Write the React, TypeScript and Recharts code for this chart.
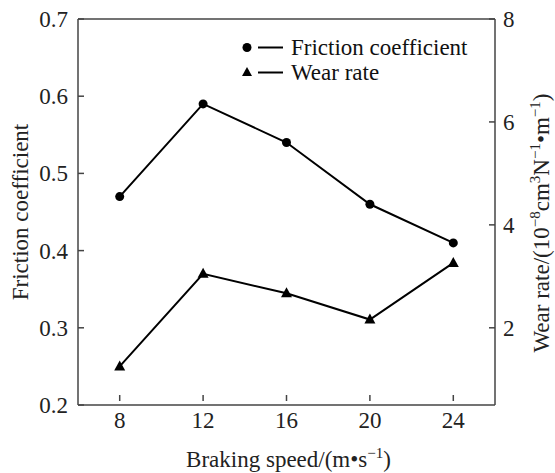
import React from 'react';
import { LineChart, Line, XAxis, YAxis, Legend, ReferenceLine } from 'recharts';

const speeds = [8, 12, 16, 20, 24];
const frictionCoefficient = [0.47, 0.59, 0.54, 0.46, 0.41];
const wearRate = [1.25, 3.05, 2.67, 2.16, 3.26];
const xTicks = [8, 12, 16, 20, 24];
const leftTicks = [0.2, 0.3, 0.4, 0.5, 0.6, 0.7];
const rightTicks = [2, 4, 6, 8];
const seriesNames = ['Friction coefficient', 'Wear rate'];

const data = speeds.map((s, i) => ({ speed: s, friction: frictionCoefficient[i], wear: wearRate[i] }));

const FONT = "'Liberation Serif', 'Times New Roman', serif";
const FS = 23;
const AXIS = '#444';
const TXT = { fontFamily: FONT, fontSize: FS, fill: '#222' } as React.CSSProperties;

const LeftTick = (p: any) => (
  <g>
    <line x1={p.x + 10} x2={p.x + 16} y1={p.y} y2={p.y} stroke={AXIS} strokeWidth={1.5} />
    <text x={p.x} y={p.y} dy="0.35em" textAnchor="end" style={TXT}>
      {Number(p.payload.value).toFixed(1)}
    </text>
  </g>
);

const RightTick = (p: any) => (
  <g>
    <line x1={p.x - 8} x2={p.x - 14} y1={p.y} y2={p.y} stroke={AXIS} strokeWidth={1.5} />
    <text x={p.x} y={p.y} dy="0.35em" textAnchor="start" style={TXT}>
      {p.payload.value}
    </text>
  </g>
);

const BottomTick = (p: any) => (
  <g>
    <line x1={p.x} x2={p.x} y1={p.y - 4} y2={p.y - 10} stroke={AXIS} strokeWidth={1.5} />
    <text x={p.x} y={p.y + 23} textAnchor="middle" style={TXT}>
      {p.payload.value}
    </text>
  </g>
);

const TriangleDot = (p: any) => {
  const { cx, cy } = p;
  if (cx == null || cy == null) return null;
  return <path d={`M${cx},${cy - 6} L${cx + 5.5},${cy + 4} L${cx - 5.5},${cy + 4} Z`} fill="#000" />;
};

const LegendContent = () => (
  <div style={{ fontFamily: FONT, fontSize: FS, color: '#111', lineHeight: '25px' }}>
    {seriesNames.map((name, i) => (
      <div key={name} style={{ display: 'flex', alignItems: 'center', height: 25, whiteSpace: 'nowrap' }}>
        <svg width={50} height={25} style={{ display: 'block' }}>
          {i === 0 ? (
            <circle cx={9} cy={12.5} r={4.5} fill="#000" />
          ) : (
            <path d="M9,7 L14,16 L4,16 Z" fill="#000" />
          )}
          <line x1={20} x2={45} y1={12.5} y2={12.5} stroke="#000" strokeWidth={2} />
        </svg>
        <span style={{ marginLeft: 3 }}>{name}</span>
      </div>
    ))}
  </div>
);

const LeftTitle = (props: any) => {
  const vb = props.viewBox || { x: 0, y: 19, width: 78, height: 386 };
  const cx = 20;
  const cy = vb.y + vb.height / 2;
  return (
    <text x={cx} y={cy} transform={`rotate(-90, ${cx}, ${cy})`} textAnchor="middle" dominantBaseline="central" style={TXT}>
      Friction coefficient
    </text>
  );
};

const RightTitle = (props: any) => {
  const vb = props.viewBox || { x: 495, y: 19, width: 60, height: 386 };
  const cx = vb.x + 54;
  const cy = vb.y + vb.height / 2 + 11;
  return (
    <text x={cx} y={cy} transform={`rotate(-90, ${cx}, ${cy})`} textAnchor="middle" style={TXT}>
      <tspan>Wear rate/(10</tspan>
      <tspan style={{ fontSize: 15 }} dy={-9}>−8</tspan>
      <tspan dy={9}>cm</tspan>
      <tspan style={{ fontSize: 15 }} dy={-9}>3</tspan>
      <tspan dy={9}>N</tspan>
      <tspan style={{ fontSize: 15 }} dy={-9}>−1</tspan>
      <tspan dy={9}>•m</tspan>
      <tspan style={{ fontSize: 15 }} dy={-9}>−1</tspan>
      <tspan dy={9}>)</tspan>
    </text>
  );
};

const BottomTitle = (props: any) => {
  const vb = props.viewBox || { x: 78, y: 405, width: 417, height: 68 };
  const cx = vb.x + vb.width / 2 + 2;
  const cy = vb.y + 62;
  return (
    <text x={cx} y={cy} textAnchor="middle" style={TXT}>
      <tspan>Braking speed/(m•s</tspan>
      <tspan style={{ fontSize: 15 }} dy={-9}>−1</tspan>
      <tspan dy={9}>)</tspan>
    </text>
  );
};

export default function App() {
  return (
    <div style={{ position: 'absolute', left: 0, top: 0, width: 555, height: 473, background: '#fff', fontFamily: FONT }}>
      <LineChart width={555} height={473} data={data} margin={{ top: 19, right: 0, bottom: 0, left: 0 }} style={{ fontFamily: FONT }}>
        <XAxis
          dataKey="speed"
          type="number"
          domain={[6, 26]}
          ticks={xTicks}
          height={68}
          tickSize={0}
          tickMargin={0}
          tickLine={false}
          tick={<BottomTick />}
          axisLine={{ stroke: AXIS, strokeWidth: 1.5 }}
          label={{ content: BottomTitle }}
        />
        <YAxis
          yAxisId="left"
          orientation="left"
          type="number"
          domain={[0.2, 0.7]}
          ticks={leftTicks}
          width={78}
          tickSize={0}
          tickMargin={10}
          tickLine={false}
          tick={<LeftTick />}
          axisLine={{ stroke: AXIS, strokeWidth: 1.5 }}
          label={{ content: LeftTitle }}
        />
        <YAxis
          yAxisId="right"
          orientation="right"
          type="number"
          domain={[0.5, 8]}
          ticks={rightTicks}
          width={60}
          tickSize={0}
          tickMargin={8}
          tickLine={false}
          tick={<RightTick />}
          axisLine={{ stroke: AXIS, strokeWidth: 1.5 }}
          label={{ content: RightTitle }}
        />
        <ReferenceLine yAxisId="left" y={0.7} stroke={AXIS} strokeWidth={1.5} />
        <Legend
          layout="vertical"
          align="center"
          verticalAlign="middle"
          content={<LegendContent />}
          wrapperStyle={{ position: 'absolute', left: 238, top: 34.5, width: 260 }}
        />
        <Line
          yAxisId="left"
          type="linear"
          dataKey="friction"
          name={seriesNames[0]}
          stroke="#000"
          strokeWidth={2}
          dot={{ r: 4.5, fill: '#000', stroke: '#000', strokeWidth: 0 }}
          activeDot={false}
          isAnimationActive={false}
        />
        <Line
          yAxisId="right"
          type="linear"
          dataKey="wear"
          name={seriesNames[1]}
          stroke="#000"
          strokeWidth={2}
          dot={<TriangleDot />}
          activeDot={false}
          isAnimationActive={false}
        />
      </LineChart>
    </div>
  );
}
